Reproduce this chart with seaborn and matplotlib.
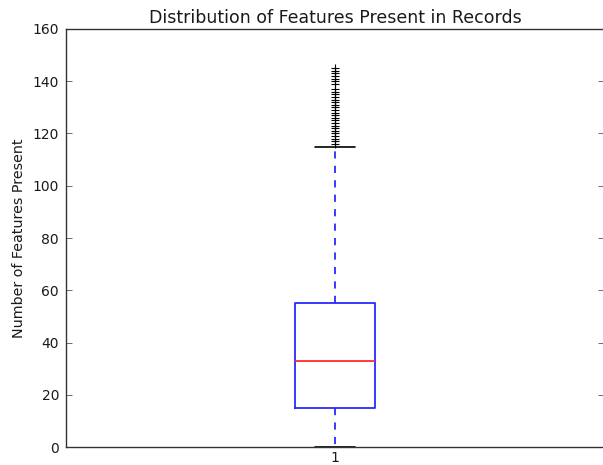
import matplotlib
matplotlib.use("Agg")
import matplotlib.pyplot as plt
import seaborn as sns
import numpy as np

# summary values
whisker_low = 0
q1 = 15
median = 33
q3 = 55
whisker_high = 115
outliers = [116, 117, 118, 119, 120, 121, 122, 123, 124, 125, 126, 127, 128,
            129, 130, 131, 132, 133, 134, 135, 136, 137, 139, 140, 141, 142,
            143, 144, 145]

# records rebuilt so the box statistics land on the values above
counts = [1, 50, 50, 50, 1]
features = np.concatenate([np.repeat([whisker_low, q1, median, q3, whisker_high], counts),
                           outliers])

sns.set_style("white")
plt.rcParams['font.family'] = ['DejaVu Sans']
plt.rcParams['text.color'] = '#1a1a1a'
plt.rcParams['axes.labelcolor'] = '#1a1a1a'

fig = plt.figure(figsize=(6.03, 4.65), dpi=100)
ax = fig.add_axes([66 / 603, 18 / 465, 538 / 603, 418 / 465])

sns.boxplot(y=features, ax=ax, width=0.15, fill=False, whis=1.5,
            boxprops=dict(color='#2a2aff', linewidth=1.3),
            medianprops=dict(color='#ff2a2a', linewidth=1.3),
            whiskerprops=dict(color='#2a2aff', linestyle=(0, (4, 4)), linewidth=1.3),
            capprops=dict(color='black', linewidth=1.2),
            flierprops=dict(marker='+', markeredgecolor='black', markersize=6,
                            markeredgewidth=0.8, linestyle='none'))

ax.set_xlim(-0.5, 0.5)
ax.set_ylim(0, 160)
ax.set_xticks([0])
ax.set_xticklabels(['1'])
ax.set_yticks(range(0, 161, 20))
ax.tick_params(direction='in', length=4, width=0.6, labelsize=10,
               top=True, right=True, left=True, bottom=True, pad=5,
               colors='#555555', labelcolor='#1a1a1a')
ax.tick_params(axis='x', length=0, pad=3)
for s in ax.spines.values():
    s.set_color('#333333')
    s.set_linewidth(1)
ax.set_ylabel('Number of Features Present', fontsize=10.3, labelpad=5)
ax.set_title('Distribution of Features Present in Records', fontsize=12.5, pad=4)

fig.savefig('out.png', dpi=100)
